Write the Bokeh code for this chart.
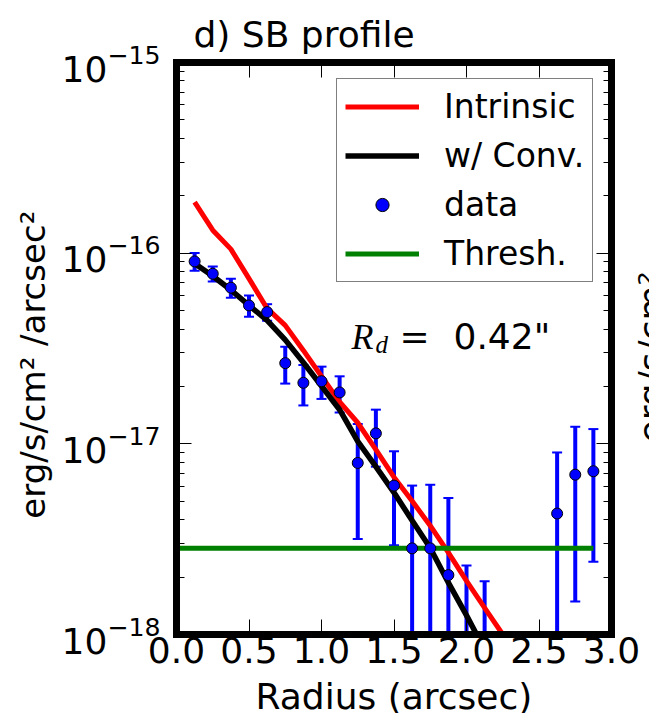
import math
from bokeh.plotting import figure
from bokeh.models import (FixedTicker, LogAxis, LinearAxis, Legend, LegendItem, Label, Title,
                          PrintfTickFormatter, CustomJSTickFormatter, ColumnDataSource)
from bokeh.embed import file_html
from bokeh.resources import INLINE

# ---------------- data ----------------
radius_data = [0.125, 0.25, 0.375, 0.5, 0.625, 0.75, 0.875, 1.0, 1.125, 1.25,
               1.375, 1.5, 1.625, 1.75, 1.875, 2.0, 2.125, 2.625, 2.75, 2.875]
sb_data = [9.05e-17, 7.80e-17, 6.59e-17, 5.32e-17, 4.91e-17, 2.65e-17, 2.09e-17, 2.13e-17,
           1.86e-17, 7.94e-18, 1.135e-17, 6.04e-18, 2.83e-18, 2.83e-18, 2.05e-18, -0.7e-18,
           -1.1e-18, 4.31e-18, 6.89e-18, 7.18e-18]
sb_err = [0.97e-17, 0.70e-17, 0.76e-17, 0.68e-17, 0.49e-17, 0.58e-17, 0.50e-17, 0.41e-17,
          0.40e-17, 4.77e-18, 3.76e-18, 3.10e-18, 3.21e-18, 3.27e-18, 3.15e-18, 3.0e-18,
          3.0e-18, 4.7e-18, 5.4e-18, 4.77e-18]

radius_model = [0.125, 0.25, 0.375, 0.5, 0.625, 0.75, 0.875, 1.0, 1.125, 1.25,
                1.375, 1.5, 1.625, 1.75, 1.875, 2.0, 2.125, 2.25, 2.375]
intrinsic = [1.85e-16, 1.32e-16, 1.05e-16, 7.35e-17, 5.13e-17, 4.18e-17, 3.09e-17, 2.26e-17,
             1.66e-17, 1.29e-17, 9.33e-18, 6.68e-18, 5.01e-18, 3.72e-18, 2.69e-18, 1.91e-18,
             1.38e-18, 1.00e-18, 7.24e-19]
convolved = [8.83e-17, 7.59e-17, 6.41e-17, 5.32e-17, 4.44e-17, 3.51e-17, 2.67e-17, 2.01e-17,
             1.51e-17, 1.03e-17, 7.60e-18, 5.55e-18, 3.96e-18, 2.84e-18, 1.87e-18, 1.26e-18,
             8.32e-19, 5.5e-19, 3.6e-19]
thresh_x = [0.0, 2.875]
thresh_value = 2.83e-18

x_min, x_max = 0.0, 3.0
y_min, y_max = 1e-18, 1e-15
x_ticks = [0.0, 0.5, 1.0, 1.5, 2.0, 2.5, 3.0]
y_ticks = [1e-18, 1e-17, 1e-16, 1e-15]
y_minor = [m * d for d in (1e-18, 1e-17, 1e-16) for m in range(2, 10)]

title_text = "d) SB profile"
x_label = "Radius (arcsec)"
y_label = "erg/s/cm\u00b2 /arcsec\u00b2"
side_label = "erg/s/cm\u00b2"
rd_text = "0.42\""

# ---------------- layout (page px) ----------------
W, H = 649, 713
LEFT, TOP, BOTTOM = 176, 62, 634        # frame edges
AX_RIGHT = 611                          # page x of radius 3.0
FXS = (AX_RIGHT - LEFT) / (x_max - x_min)   # px per arcsec
FYS = (BOTTOM - TOP) / 3.0                  # px per decade


def xdat(xp):
    return x_min + (xp - LEFT) / FXS


def ydat(yp):
    return 10 ** (-15 - (yp - TOP) / FYS)


FONT = "DejaVu Sans"

# the frame is stretched to the right edge of the canvas so that the cut-off
# label of the neighbouring panel can be drawn; the visible box ends at 3.0
p = figure(width=W, height=H, x_range=(x_min, xdat(W)), y_range=(y_min, y_max),
           y_axis_type="log", output_backend="svg", toolbar_location=None,
           min_border_left=LEFT, min_border_right=0, min_border_top=TOP,
           min_border_bottom=H - BOTTOM)
p.grid.visible = False
p.outline_line_color = None
p.background_fill_color = "white"
p.border_fill_color = "white"

p.title.text = title_text
p.title.align = "left"
p.title.offset = 17
p.title.text_font = FONT
p.title.text_font_size = "36px"
p.title.text_font_style = "normal"
p.title.text_color = "black"
p.title.standoff = 16


def style_axis(ax):
    ax.axis_line_color = "black"
    ax.axis_line_width = 7
    ax.axis_line_cap = "square"
    ax.major_tick_in = 15
    ax.major_tick_out = 0
    ax.minor_tick_in = 8
    ax.minor_tick_out = 0
    ax.major_tick_line_color = "black"
    ax.minor_tick_line_color = "black"
    ax.major_tick_line_width = 1
    ax.minor_tick_line_width = 1


xa = p.xaxis[0]
xa.ticker = FixedTicker(ticks=x_ticks)
xa.formatter = PrintfTickFormatter(format="%.1f")
xa.bounds = (x_min, x_max)
style_axis(xa)
xa.major_label_text_font = FONT
xa.major_label_text_font_size = "36px"
xa.major_label_text_color = "black"
xa.major_label_standoff = 2

# x-axis label, drawn as a bottom title (an empty first line with a small
# line height pushes the visible line down without squeezing the frame)
p.add_layout(Title(text="\n" + x_label, align="left", offset=255 - LEFT,
                   vertical_align="bottom", standoff=-8, text_font=FONT,
                   text_font_size="36px", text_font_style="normal", text_color="black",
                   text_line_height=0.31), "below")

ya = p.yaxis[0]
ya.ticker = FixedTicker(ticks=y_ticks, minor_ticks=y_minor)
style_axis(ya)
ya.major_label_text_font = FONT
ya.major_label_text_font_size = "36px"
ya.major_label_text_color = "black"
ya.major_label_standoff = 16
# leading spaces lift the label a little above the frame centre, as in the reference
ya.axis_label = "   " + y_label
ya.axis_label_text_font = FONT
ya.axis_label_text_font_size = "34px"
ya.axis_label_text_font_style = "normal"
ya.axis_label_text_color = "black"
ya.axis_label_standoff = 6

empty = CustomJSTickFormatter(code="return ''")
top = LinearAxis(ticker=FixedTicker(ticks=x_ticks), formatter=empty, major_label_standoff=0,
                 major_label_text_font_size="1px", bounds=(x_min, x_max))
style_axis(top)
p.add_layout(top, "above")

# right edge of the box at radius 3.0, with inward ticks
right = LogAxis(ticker=FixedTicker(ticks=y_ticks, minor_ticks=y_minor), formatter=empty,
                major_label_standoff=0, major_label_text_font_size="1px",
                fixed_location=x_max)
style_axis(right)
right.axis_line_cap = "butt"
p.add_layout(right, "right")

# ---------------- error bars ----------------
upper = [y + e for y, e in zip(sb_data, sb_err)]
lower = [(y - e) if (y - e) > 0 else 1e-21 for y, e in zip(sb_data, sb_err)]
p.segment(x0=radius_data, y0=lower, x1=radius_data, y1=upper, line_color="#0000ff", line_width=4)
p.scatter(x=radius_data, y=upper, marker="dash", size=10, line_color="#0000ff", line_width=2)
p.scatter(x=radius_data, y=lower, marker="dash", size=10, line_color="#0000ff", line_width=2)

# ---------------- model lines ----------------
r_int = p.line(radius_model, intrinsic, line_color="#ff0000", line_width=5)
r_conv = p.line(radius_model, convolved, line_color="black", line_width=5.5)
r_thr = p.line(thresh_x, [thresh_value, thresh_value], line_color="#008000", line_width=5)

# ---------------- data points ----------------
pos = [i for i, y in enumerate(sb_data) if y > 0]
src = ColumnDataSource(dict(x=[radius_data[i] for i in pos], y=[sb_data[i] for i in pos]))
r_dat = p.scatter(x="x", y="y", source=src, size=11, fill_color="#0000ff",
                  line_color="black", line_width=1)

legend = Legend(items=[LegendItem(label="Intrinsic", renderers=[r_int]),
                       LegendItem(label="w/ Conv.", renderers=[r_conv]),
                       LegendItem(label="data", renderers=[r_dat]),
                       LegendItem(label="Thresh.", renderers=[r_thr])],
                location=(336 - LEFT, BOTTOM - 282), padding=8, spacing=10,
                glyph_width=74, glyph_height=33, label_height=33, label_standoff=25,
                label_text_font=FONT, label_text_font_size="33px", label_text_color="black",
                border_line_color="black", border_line_width=1.5,
                background_fill_color="white", background_fill_alpha=1.0)
p.add_layout(legend)


# ---------------- texts inside the (stretched) frame ----------------
def add_text(text, xp, yp, size, font=FONT, style="normal", angle=0.0):
    p.add_layout(Label(x=xdat(xp), y=ydat(yp), text=text, text_font=font, text_font_size=size,
                       text_font_style=style, text_align="left", text_baseline="alphabetic",
                       angle=angle, text_color="black"))


add_text("R", 351, 336, "36px", font="Liberation Serif", style="italic")
add_text("d", 375, 344, "25px", font="Liberation Serif", style="italic")
add_text("=", 399, 336, "36px", font="DejaVu Serif")
add_text(rd_text, 453, 336, "36px")
# label of the neighbouring panel, cut by the right edge of the picture
add_text(side_label, 651, 442, "36px", angle=math.pi / 2)

open("out.html", "w").write(file_html(p, INLINE))
